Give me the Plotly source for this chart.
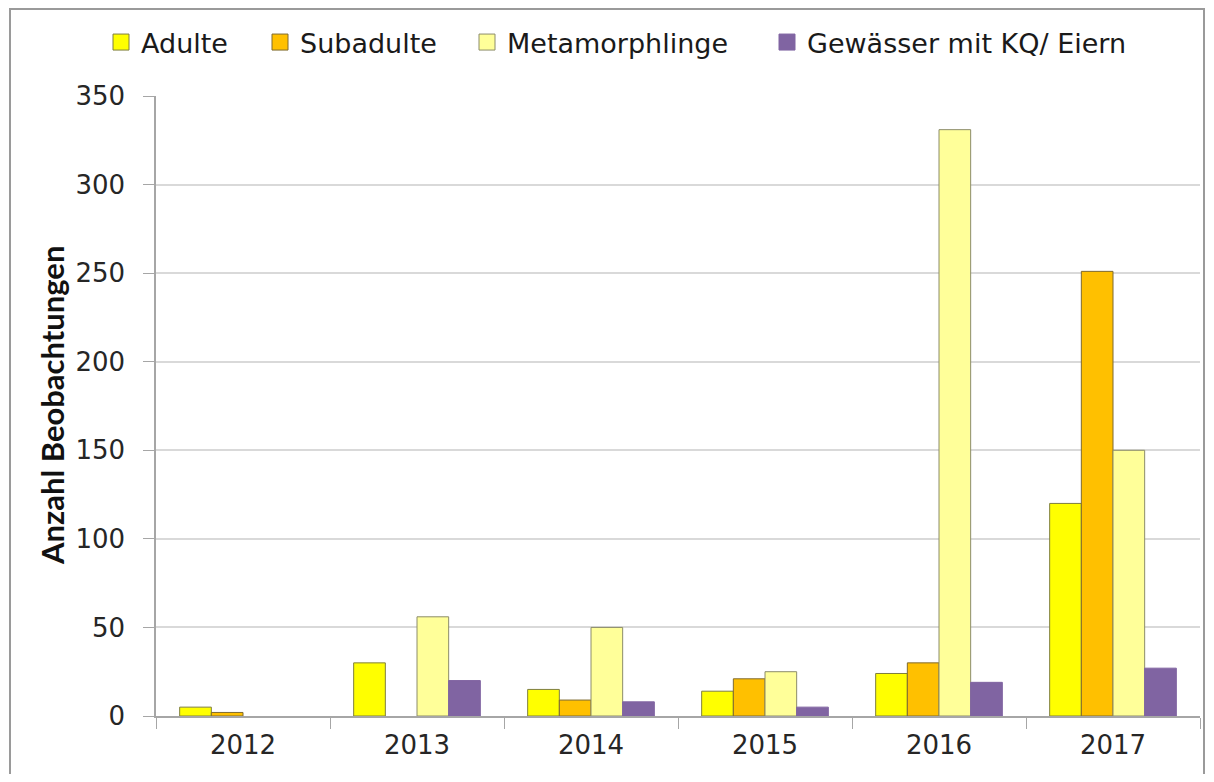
import plotly.graph_objects as go

# data
jahre = ["2012", "2013", "2014", "2015", "2016", "2017"]
adulte = [5, 30, 15, 14, 24, 120]
subadulte = [2, 0, 9, 21, 30, 251]
metamorphlinge = [0, 56, 50, 25, 331, 150]
gewaesser = [0, 20, 8, 5, 19, 27]

serien = [
    ("Adulte", adulte, "#FFFF00", "#7F7F3F"),
    ("Subadulte", subadulte, "#FFC000", "#7F6A30"),
    ("Metamorphlinge", metamorphlinge, "#FFFF99", "#8C8C6A"),
    ("Gewässer mit KQ/ Eiern", gewaesser, "#8064A2", "#8064A2"),
]

FONT = "'DejaVu Sans', sans-serif"

# the page body adds 8px around the figure, so the figure is 16px smaller
W, H = 1198, 766
L, T = 148, 88
R, B = W - 1192, H - 708
pw, ph = W - L - R, H - T - B

# left edge of each legend box (figure px), one legend per series
legend_links = [93, 252, 459, 759]

fig = go.Figure()
layout_legends = {}
for i, (name, werte, farbe, rand) in enumerate(serien):
    lg = "legend" if i == 0 else f"legend{i + 1}"
    # zero values get no outline, like the original
    breiten = [0 if v == 0 else 1 for v in werte]
    fig.add_trace(go.Bar(x=jahre, y=werte, name=name, showlegend=False,
                         marker=dict(color=farbe, line=dict(color=rand, width=breiten))))
    # legend entry with a bigger square symbol
    fig.add_trace(go.Scatter(x=[None], y=[None], name=name, mode="markers", legend=lg,
                             marker=dict(symbol="square", size=16, color=farbe,
                                         line=dict(color=rand, width=1))))
    layout_legends[lg] = dict(orientation="h", xref="container", yref="container",
                              x=legend_links[i] / W, y=1 - 10 / H,
                              xanchor="left", yanchor="top", bgcolor="rgba(0,0,0,0)",
                              font=dict(size=27, family=FONT, color="#1a1a1a"),
                              itemsizing="trace", itemwidth=30)

fig.update_layout(
    width=W, height=H,
    margin=dict(l=L, r=R, t=T, b=B, autoexpand=False),
    paper_bgcolor="white", plot_bgcolor="white",
    barmode="group", bargap=0.272, bargroupgap=0,
    font=dict(family=FONT, color="#1a1a1a"),
    **layout_legends,
)
fig.update_yaxes(range=[0, 350], dtick=50, showgrid=True, gridcolor="#D9D9D9", gridwidth=1.5,
                 showline=True, linecolor="#A6A6A6", linewidth=1.5,
                 ticks="outside", ticklen=11, tickcolor="#A6A6A6", ticklabelstandoff=13,
                 tickfont=dict(size=26, family=FONT, color="#262626"), zeroline=False,
                 automargin=False)
fig.update_xaxes(showline=True, linecolor="#A6A6A6", linewidth=1.5,
                 ticks="outside", ticklen=11, tickcolor="#A6A6A6", tickson="boundaries",
                 ticklabelstandoff=5,
                 tickfont=dict(size=26, family=FONT, color="#262626"), automargin=False)


def px_x(p):
    return (p - L) / pw


def px_y(p):
    return (H - B - p) / ph


# y axis title
fig.add_annotation(text="<b>Anzahl Beobachtungen</b>", textangle=-90, showarrow=False,
                   xref="paper", yref="paper", x=px_x(44), y=px_y(398),
                   xanchor="center", yanchor="middle",
                   font=dict(size=31, family="Lato, sans-serif", color="#111111"))

# outer frame of the chart
fig.add_shape(type="rect", xref="paper", yref="paper",
              x0=px_x(2), x1=px_x(1196), y0=px_y(790), y1=px_y(1),
              line=dict(color="#9A9A9A", width=2), fillcolor="rgba(0,0,0,0)", layer="below")

fig.write_html("out.html")
